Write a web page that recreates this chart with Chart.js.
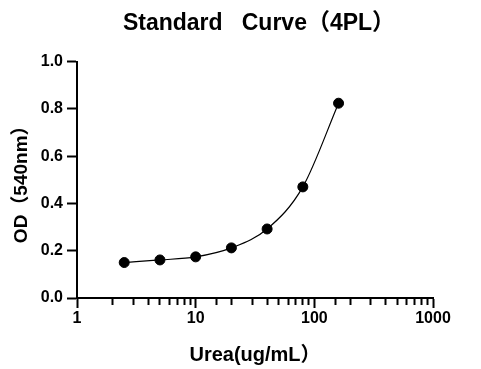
<!DOCTYPE html>
<html>
<head>
<meta charset="utf-8">
<script src="https://cdn.jsdelivr.net/npm/chart.js@4"></script>
<style>
  body { margin: 0; background: #fff; }
  #wrap { width: 481px; height: 369px; }
</style>
</head>
<body>
<div id="wrap"><canvas id="curveChart"></canvas></div>
<script>
// data
const concentrations = [2.5, 5, 10, 20, 40, 80, 160];
const odValues = [0.150, 0.161, 0.174, 0.212, 0.292, 0.470, 0.824];
const yTicks = [0, 0.2, 0.4, 0.6, 0.8, 1.0];

const points = concentrations.map((c, i) => ({ x: c, y: odValues[i] }));
const isDecade = v => Math.abs(Math.log10(v) - Math.round(Math.log10(v))) < 1e-9;

Chart.defaults.font.family = "'Liberation Sans', Arial, 'Noto Sans CJK SC', sans-serif";
Chart.defaults.color = '#000';

// center the title over the plot area instead of the whole canvas
const titleOverArea = {
    id: 'titleOverArea',
    afterLayout(chart) {
        const tb = chart.titleBlock;
        if (!tb) return;
        tb.left = chart.chartArea.left + 4;
        tb.right = chart.chartArea.right + 4;
        tb.width = tb.right - tb.left;
    }
};

new Chart(document.getElementById('curveChart'), {
    type: 'scatter',
    plugins: [titleOverArea],
    data: {
        datasets: [
            {
                // fitted curve
                type: 'line',
                data: points,
                borderColor: '#000',
                borderWidth: 1.2,
                pointRadius: 0,
                fill: false,
                cubicInterpolationMode: 'monotone'
            },
            {
                data: points,
                backgroundColor: '#000',
                borderColor: '#000',
                pointRadius: 5,
                showLine: false
            }
        ]
    },
    options: {
        responsive: true,
        maintainAspectRatio: false,
        animation: false,
        layout: { padding: { left: 0, right: 48, top: 0, bottom: 0 } },
        plugins: {
            legend: { display: false },
            tooltip: { enabled: false },
            title: {
                display: true,
                text: 'Standard   Curve（4PL）',
                color: '#000',
                font: { size: 23, weight: 'bold' },
                padding: { top: 10, bottom: 24 }
            }
        },
        scales: {
            x: {
                type: 'logarithmic',
                min: 1,
                max: 1000,
                border: { color: '#000', width: 2 },
                grid: {
                    drawOnChartArea: false,
                    drawTicks: true,
                    tickLength: 10,
                    tickColor: '#000',
                    tickWidth: 2,
                    tickBorderDash: ctx => (ctx.tick && isDecade(ctx.tick.value)) ? [] : [6, 30]
                },
                ticks: {
                    autoSkip: false,
                    maxRotation: 0,
                    minRotation: 0,
                    padding: 1,
                    color: '#000',
                    font: { size: 16, weight: 'bold' },
                    callback: v => isDecade(v) ? String(Math.round(v)) : ''
                },
                title: {
                    display: true,
                    text: 'Urea(ug/mL）',
                    color: '#000',
                    font: { size: 20, weight: 'bold' },
                    padding: { top: 0, bottom: 2 }
                },
                afterFit: s => { s.height = 71; }
            },
            y: {
                min: 0,
                max: 1,
                border: { color: '#000', width: 2 },
                grid: {
                    drawOnChartArea: false,
                    drawTicks: true,
                    tickLength: 10,
                    tickColor: '#000',
                    tickWidth: 2
                },
                afterBuildTicks: s => { s.ticks = yTicks.map(v => ({ value: v })); },
                ticks: {
                    padding: 4,
                    color: '#000',
                    font: { size: 16, weight: 'bold' },
                    callback: v => v.toFixed(1)
                },
                title: {
                    display: true,
                    text: 'OD（540nm）',
                    color: '#000',
                    font: { size: 19, weight: 'bold' },
                    padding: { top: 10, bottom: 0 }
                },
                afterFit: s => { s.width = 77; }
            }
        }
    }
});
</script>
</body>
</html>
